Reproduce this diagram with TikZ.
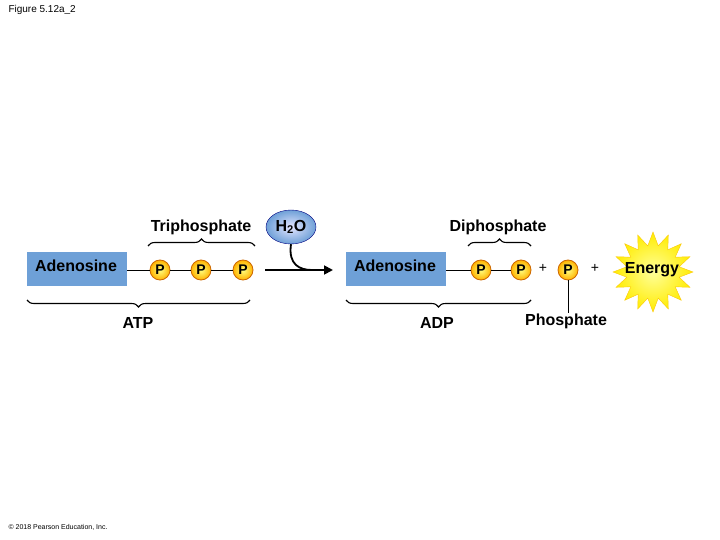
\documentclass[tikz,border=0pt]{standalone}
\usepackage{fontspec}
\setmainfont{Liberation Sans}
\usetikzlibrary{shapes.geometric,decorations.pathreplacing,arrows.meta}
\begin{document}
\begin{tikzpicture}[x=1pt,y=-1pt,
  lbl/.style={font=\bfseries\fontsize{16}{18}\selectfont,inner sep=0pt},
  box/.style={fill=adb,minimum width=100pt,minimum height=34pt,inner sep=0pt,font=\bfseries\fontsize{16}{18}\selectfont},
  ph/.style={circle,draw=orange!80!black,line width=0.8pt,inner color=yellow!50!white,outer color=orange!60!yellow,minimum size=20pt,inner sep=0pt,text=black,font=\bfseries\fontsize{14}{14}\selectfont},
  br/.style={decorate,decoration={brace,amplitude=7pt},line width=1.1pt},
  ln/.style={line width=1pt}]
\definecolor{adb}{RGB}{110,160,215}
\useasboundingbox (0,0) rectangle (720,540);
\node[anchor=west,font=\fontsize{10}{12}\selectfont] (title) at (5,10) {Figure 5.12a\_2};
\node[anchor=west,font=\fontsize{7}{8}\selectfont] (copy) at (5,527) {\textcopyright{} 2018 Pearson Education, Inc.};
% left
\node[box] (ad1) at (77,269) {};
\node[lbl] (ad1t) at (76,266) {Adenosine};
\node[ph] (p1) at (160,270) {P};
\node[ph] (p2) at (201,270) {P};
\node[ph] (p3) at (243,270) {P};
\draw[ln] (ad1.east|-p1) -- (p1) -- (p2) -- (p3);
\draw[br] (148,246) -- (255,246);
\node[lbl] (tri) at (201,227) {Triphosphate};
\node[ellipse,draw=blue!50!black,inner color=blue!10!white,outer color=adb,minimum width=50pt,minimum height=34pt,inner sep=0pt,font=\bfseries\fontsize{16}{18}\selectfont] (h2o) at (291,227) {H$_{\mathbf 2}$O};
\coordinate (a0) at (265,270);
\coordinate (a1) at (333,270);
\draw[line width=1.8pt,-{Triangle[length=9pt,width=9pt]}] (a0) -- (a1);
\coordinate (j) at (312,270);
\draw[line width=1.8pt] (h2o.south) .. controls (288,265) and (300,270) .. (j);
\draw[br] (250,300) -- (27,300);
\node[lbl] (atp) at (138,323) {ATP};
% right
\node[box] (ad2) at (396,269) {};
\node[lbl] (ad2t) at (395,266) {Adenosine};
\node[ph] (q1) at (481,270) {P};
\node[ph] (q2) at (521,270) {P};
\draw[ln] (ad2.east|-q1) -- (q1) -- (q2);
\node[font=\fontsize{14}{14}\selectfont] (plus1) at (543,268) {+};
\node[ph] (q3) at (568,270) {P};
\node[font=\fontsize{14}{14}\selectfont] (plus2) at (595,268) {+};
\draw[br] (468,246) -- (531,246);
\node[lbl] (di) at (498,227) {Diphosphate};
\draw[br] (531,300) -- (346,300);
\node[lbl] (adp) at (437,323) {ADP};
\node[lbl] (phos) at (566,321) {Phosphate};
\draw[ln] (q3) -- (phos.north-|q3);
\node[star,star points=16,star point ratio=1.5,minimum size=80pt,inner sep=0pt,draw=yellow!60!orange,inner color=yellow!40!white,outer color=yellow!85!orange] (en) at (653,272) {};
\node[lbl] at (652,270) {Energy};
\end{tikzpicture}
\end{document}
